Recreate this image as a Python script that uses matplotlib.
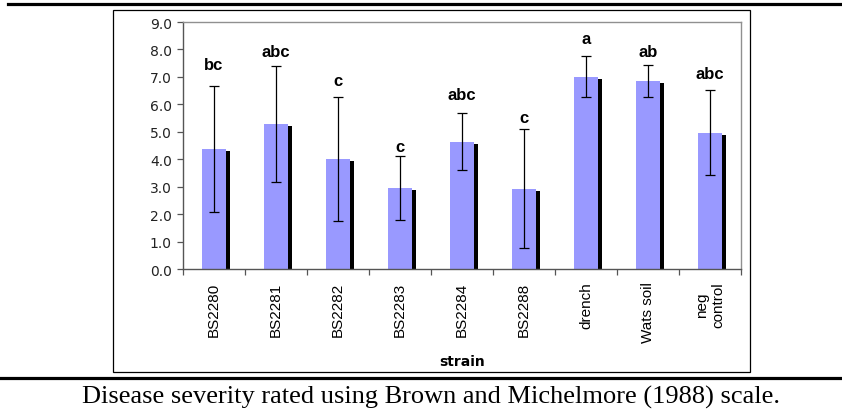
import matplotlib
matplotlib.use("Agg")
import matplotlib.pyplot as plt
import matplotlib.patheffects as pe
from matplotlib.patches import Rectangle
from matplotlib.lines import Line2D
import numpy as np

categories = ["BS2280", "BS2281", "BS2282", "BS2283", "BS2284", "BS2288",
              "drench", "Wats soil", "neg\ncontrol"]
means = [4.38, 5.29, 4.00, 2.95, 4.64, 2.93, 7.00, 6.85, 4.97]
errors = [2.30, 2.12, 2.25, 1.16, 1.05, 2.18, 0.75, 0.58, 1.54]
letters = ["bc", "abc", "c", "c", "abc", "c", "a", "ab", "abc"]
letter_y = [7.29, 7.75, 6.71, 4.31, 6.20, 5.37, 8.24, 7.75, 6.95]
yticks = [0.0, 1.0, 2.0, 3.0, 4.0, 5.0, 6.0, 7.0, 8.0, 9.0]
caption = "Disease severity rated using Brown and Michelmore (1988) scale."

W, H = 842, 410
fig = plt.figure(figsize=(W / 100, H / 100), dpi=100)

def fx(px):
    return px / W

def fy(py):
    return 1 - py / H

# chart box
fig.add_artist(Rectangle((fx(113), fy(373)), fx(750) - fx(113), fy(11) - fy(373),
                         transform=fig.transFigure, fill=False, ec="black", lw=0.9))
# thick rules
fig.add_artist(Line2D([fx(8), 1.0], [fy(5), fy(5)], transform=fig.transFigure,
                      color="black", lw=2.3))
fig.add_artist(Line2D([0.0, 1.0], [fy(379), fy(379)], transform=fig.transFigure,
                      color="black", lw=2.3))

ax = fig.add_axes([fx(183), fy(270), fx(741) - fx(183), fy(23) - fy(270)])
x = np.arange(len(categories))
bars = ax.bar(x, means, width=0.40, color="#9999FF", zorder=2)
for b in bars:
    b.set_path_effects([pe.SimplePatchShadow(offset=(2.6, -1.5), shadow_rgbFace="black",
                                             alpha=1.0, rho=1.0), pe.Normal()])
ax.errorbar(x, means, yerr=errors, fmt="none", ecolor="black", elinewidth=0.9,
            capsize=3.3, capthick=0.9, zorder=3)
for xi, lab, ly in zip(x, letters, letter_y):
    ax.text(xi, ly, lab, ha="center", va="baseline", fontsize=12, fontweight="bold",
            family=["Liberation Sans", "DejaVu Sans"])

ax.set_xlim(-0.5, len(categories) - 0.5)
ax.set_ylim(0, 9)
ax.set_yticks(yticks)
ax.set_yticklabels([f"{v:.1f}" for v in yticks], family="DejaVu Sans", fontsize=10,
                   color="#222222")
ax.set_xticks(x)
ax.set_xticklabels(categories, rotation=90, family="Liberation Sans", fontsize=11,
                   va="top", ha="center", multialignment="center")
ax.set_xticks(np.arange(len(categories) + 1) - 0.5, minor=True)
ax.tick_params(axis="x", which="major", length=0, pad=9)
ax.tick_params(axis="x", which="minor", length=4, width=0.9, color="#555555")
ax.tick_params(axis="y", length=4, width=0.9, color="#555555", pad=4)

for s in ["top", "right"]:
    ax.spines[s].set_color("#909090")
    ax.spines[s].set_linewidth(1.0)
for s in ["left", "bottom"]:
    ax.spines[s].set_color("#555555")
    ax.spines[s].set_linewidth(1.0)

fig.text((fx(183) + fx(741)) / 2, fy(362), "strain", ha="center", va="center",
         fontsize=10, fontweight="bold", family="DejaVu Sans")
fig.text(fx(431), fy(404), caption, ha="center", va="baseline", fontsize=19,
         family="Liberation Serif")

fig.savefig("out.png", dpi=100)
